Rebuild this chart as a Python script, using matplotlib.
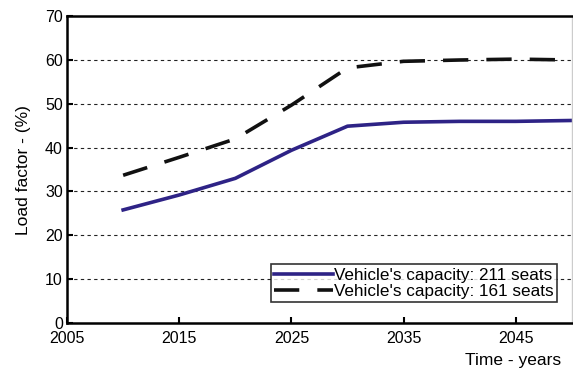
import matplotlib
matplotlib.use("Agg")
import matplotlib.pyplot as plt

plt.rcParams['font.family'] = ['Liberation Sans', 'DejaVu Sans']

years = [2010, 2015, 2020, 2025, 2030, 2035, 2040, 2045, 2050]
lf_211 = [25.8, 29.2, 33.0, 39.4, 44.9, 45.8, 46.0, 46.0, 46.2]
lf_161 = [33.7, 37.8, 42.0, 49.7, 58.2, 59.7, 60.0, 60.2, 60.0]
xticks = [2005, 2015, 2025, 2035, 2045]
yticks = [0, 10, 20, 30, 40, 50, 60, 70]

fig = plt.figure(figsize=(5.73, 3.76), dpi=100)
ax = fig.add_axes([0.117, 0.141, 0.881, 0.816])

ax.plot(years, lf_211, color='#2e2386', lw=2.6, label="Vehicle's capacity: 211 seats")
ax.plot(years, lf_161, color='#111111', lw=2.6, dashes=(7, 5), label="Vehicle's capacity: 161 seats")

ax.set_xlim(2005, 2050)
ax.set_ylim(0, 70)
ax.set_xticks(xticks)
ax.set_yticks(yticks)
for y in yticks[1:-1]:
    ax.axhline(y, color='#222222', lw=0.8, ls=(0, (3, 3)), zorder=0)

ax.tick_params(direction='in', length=4, width=1.5, labelsize=11.5, pad=3)
ax.tick_params(axis='x', pad=6)
for s in ['left', 'bottom', 'top']:
    ax.spines[s].set_linewidth(1.8)
ax.spines['right'].set_color('#cccccc')
ax.spines['right'].set_linewidth(1.0)

ax.set_ylabel('Load factor - (%)', fontsize=12.5, labelpad=10)
fig.text(0.98, 0.02, 'Time - years', ha='right', va='bottom', fontsize=12.5)

leg = ax.legend(loc='lower right', fontsize=12.3, frameon=True, fancybox=False,
                edgecolor='black', handlelength=3.4, handletextpad=0.1,
                borderpad=0.2, labelspacing=0.05, bbox_to_anchor=(0.988, 0.04))
leg.get_frame().set_linewidth(1.2)

fig.savefig('out.png', dpi=100)
